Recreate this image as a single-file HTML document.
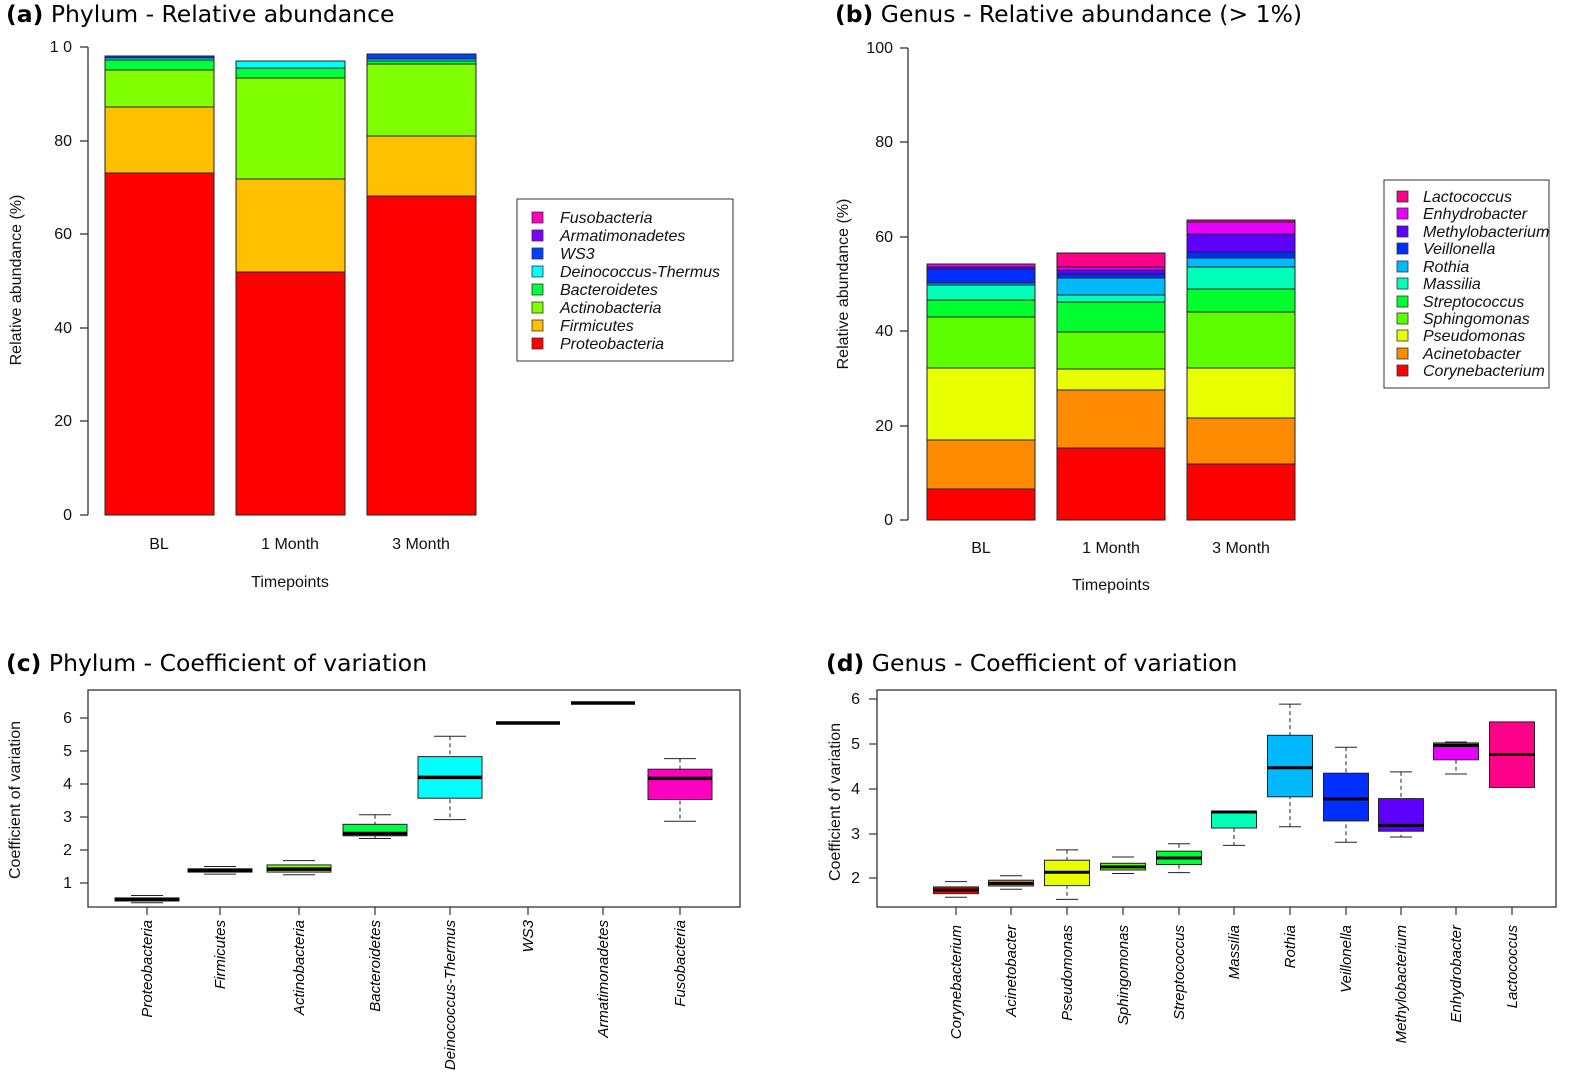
<!DOCTYPE html>
<html><head><meta charset="utf-8"><style>
html,body{margin:0;padding:0;background:#fff;}
svg{display:block;font-family:"Liberation Sans",Arial,sans-serif;}
.t{font-family:"DejaVu Sans","Liberation Sans",sans-serif;font-size:23.5px;}
.k{font-size:16px;fill:#111;}
.i{font-style:italic;font-size:15px;}
</style></head><body>
<svg width="1575" height="1089" viewBox="0 0 1575 1089" xmlns="http://www.w3.org/2000/svg">
<text x="6" y="22" class="t"><tspan font-weight="bold">(a)</tspan> Phylum - Relative abundance</text>
<text x="835" y="22" class="t"><tspan font-weight="bold">(b)</tspan> Genus - Relative abundance (&gt; 1%)</text>
<text x="6" y="671" class="t"><tspan font-weight="bold">(c)</tspan> Phylum - Coefficient of variation</text>
<text x="826" y="671" class="t"><tspan font-weight="bold">(d)</tspan> Genus - Coefficient of variation</text>

<g stroke="#333" stroke-width="1.3">
<line x1="88" y1="47" x2="88" y2="515"/>
<line x1="80" y1="47" x2="88" y2="47"/><line x1="80" y1="141" x2="88" y2="141"/><line x1="80" y1="234" x2="88" y2="234"/><line x1="80" y1="328" x2="88" y2="328"/><line x1="80" y1="421" x2="88" y2="421"/><line x1="80" y1="515" x2="88" y2="515"/>
</g>
<g class="k" text-anchor="end"><text x="72" y="52">1 0</text><text x="72" y="146">80</text><text x="72" y="239">60</text><text x="72" y="333">40</text><text x="72" y="426">20</text><text x="72" y="520">0</text></g>
<text transform="translate(21,280) rotate(-90)" text-anchor="middle" class="k">Relative abundance (%)</text>
<g stroke="#222" stroke-width="1">
<rect x="105" y="173" width="109" height="342" fill="#FF0000"/>
<rect x="105" y="107" width="109" height="66" fill="#FFC000"/>
<rect x="105" y="70" width="109" height="37" fill="#80FF00"/>
<rect x="105" y="60" width="109" height="10" fill="#00FF40"/>
<rect x="105" y="58" width="109" height="2" fill="#00FFFF"/>
<rect x="105" y="56" width="109" height="2" fill="#0040FF"/>
<rect x="236" y="272" width="109" height="243" fill="#FF0000"/>
<rect x="236" y="179" width="109" height="93" fill="#FFC000"/>
<rect x="236" y="78" width="109" height="101" fill="#80FF00"/>
<rect x="236" y="68" width="109" height="10" fill="#00FF40"/>
<rect x="236" y="61" width="109" height="7" fill="#00FFFF"/>
<rect x="367" y="196" width="109" height="319" fill="#FF0000"/>
<rect x="367" y="136" width="109" height="60" fill="#FFC000"/>
<rect x="367" y="64" width="109" height="72" fill="#80FF00"/>
<rect x="367" y="61" width="109" height="3" fill="#00FF40"/>
<rect x="367" y="59" width="109" height="2" fill="#00FFFF"/>
<rect x="367" y="54" width="109" height="5" fill="#0040FF"/>
</g>
<g class="k" text-anchor="middle"><text x="159" y="549">BL</text><text x="290" y="549">1 Month</text><text x="421" y="549">3 Month</text><text x="290" y="587">Timepoints</text></g>
<rect x="517" y="199" width="216" height="162" fill="#fff" stroke="#333"/>
<g stroke="#333" stroke-width="0.8">
<rect x="532" y="212" width="11" height="11" fill="#FF00C0"/>
<rect x="532" y="230" width="11" height="11" fill="#8000FF"/>
<rect x="532" y="248" width="11" height="11" fill="#0040FF"/>
<rect x="532" y="266" width="11" height="11" fill="#00FFFF"/>
<rect x="532" y="284" width="11" height="11" fill="#00FF40"/>
<rect x="532" y="302" width="11" height="11" fill="#80FF00"/>
<rect x="532" y="320" width="11" height="11" fill="#FFC000"/>
<rect x="532" y="338" width="11" height="11" fill="#FF0000"/>
</g>
<g class="k" font-style="italic" font-size="15"><text x="560" y="223">Fusobacteria</text><text x="560" y="241">Armatimonadetes</text><text x="560" y="259">WS3</text><text x="560" y="277">Deinococcus-Thermus</text><text x="560" y="295">Bacteroidetes</text><text x="560" y="313">Actinobacteria</text><text x="560" y="331">Firmicutes</text><text x="560" y="349">Proteobacteria</text></g>

<g stroke="#333" stroke-width="1.3">
<line x1="908" y1="48" x2="908" y2="520"/>
<line x1="900" y1="48" x2="908" y2="48"/><line x1="900" y1="142" x2="908" y2="142"/><line x1="900" y1="237" x2="908" y2="237"/><line x1="900" y1="331" x2="908" y2="331"/><line x1="900" y1="426" x2="908" y2="426"/><line x1="900" y1="520" x2="908" y2="520"/>
</g>
<g class="k" text-anchor="end"><text x="893" y="53">100</text><text x="893" y="147">80</text><text x="893" y="242">60</text><text x="893" y="336">40</text><text x="893" y="431">20</text><text x="893" y="525">0</text></g>
<text transform="translate(848,284) rotate(-90)" text-anchor="middle" class="k">Relative abundance (%)</text>
<g stroke="#222" stroke-width="1">
<rect x="927" y="489" width="108" height="31" fill="#FF0000"/>
<rect x="927" y="440" width="108" height="49" fill="#FF8C00"/>
<rect x="927" y="368" width="108" height="72" fill="#E8FF00"/>
<rect x="927" y="317" width="108" height="51" fill="#5DFF00"/>
<rect x="927" y="300" width="108" height="17" fill="#00FF2E"/>
<rect x="927" y="285" width="108" height="15" fill="#00FFB9"/>
<rect x="927" y="283" width="108" height="2" fill="#00B9FF"/>
<rect x="927" y="269" width="108" height="14" fill="#002EFF"/>
<rect x="927" y="267" width="108" height="2" fill="#5D00FF"/>
<rect x="927" y="264" width="108" height="3" fill="#E800FF"/>
<rect x="1057" y="448" width="108" height="72" fill="#FF0000"/>
<rect x="1057" y="390" width="108" height="58" fill="#FF8C00"/>
<rect x="1057" y="369" width="108" height="21" fill="#E8FF00"/>
<rect x="1057" y="332" width="108" height="37" fill="#5DFF00"/>
<rect x="1057" y="302" width="108" height="30" fill="#00FF2E"/>
<rect x="1057" y="295" width="108" height="7" fill="#00FFB9"/>
<rect x="1057" y="278" width="108" height="17" fill="#00B9FF"/>
<rect x="1057" y="274" width="108" height="4" fill="#002EFF"/>
<rect x="1057" y="270" width="108" height="4" fill="#5D00FF"/>
<rect x="1057" y="267" width="108" height="3" fill="#E800FF"/>
<rect x="1057" y="253" width="108" height="14" fill="#FF008B"/>
<rect x="1187" y="464" width="108" height="56" fill="#FF0000"/>
<rect x="1187" y="418" width="108" height="46" fill="#FF8C00"/>
<rect x="1187" y="368" width="108" height="50" fill="#E8FF00"/>
<rect x="1187" y="312" width="108" height="56" fill="#5DFF00"/>
<rect x="1187" y="289" width="108" height="23" fill="#00FF2E"/>
<rect x="1187" y="267" width="108" height="22" fill="#00FFB9"/>
<rect x="1187" y="258" width="108" height="9" fill="#00B9FF"/>
<rect x="1187" y="252" width="108" height="6" fill="#002EFF"/>
<rect x="1187" y="234" width="108" height="18" fill="#5D00FF"/>
<rect x="1187" y="222" width="108" height="12" fill="#E800FF"/>
<rect x="1187" y="220" width="108" height="2" fill="#FF008B"/>
</g>
<g class="k" text-anchor="middle"><text x="981" y="553">BL</text><text x="1111" y="553">1 Month</text><text x="1241" y="553">3 Month</text><text x="1111" y="590">Timepoints</text></g>
<rect x="1384" y="180" width="165" height="208" fill="#fff" stroke="#333"/>
<g stroke="#333" stroke-width="0.8">
<rect x="1397" y="191" width="11" height="11" fill="#FF008B"/>
<rect x="1397" y="208" width="11" height="11" fill="#E800FF"/>
<rect x="1397" y="226" width="11" height="11" fill="#5D00FF"/>
<rect x="1397" y="243" width="11" height="11" fill="#002EFF"/>
<rect x="1397" y="261" width="11" height="11" fill="#00B9FF"/>
<rect x="1397" y="278" width="11" height="11" fill="#00FFB9"/>
<rect x="1397" y="296" width="11" height="11" fill="#00FF2E"/>
<rect x="1397" y="313" width="11" height="11" fill="#5DFF00"/>
<rect x="1397" y="330" width="11" height="11" fill="#E8FF00"/>
<rect x="1397" y="348" width="11" height="11" fill="#FF8C00"/>
<rect x="1397" y="365" width="11" height="11" fill="#FF0000"/>
</g>
<g class="k" font-style="italic" font-size="14.5"><text x="1423" y="202">Lactococcus</text><text x="1423" y="219">Enhydrobacter</text><text x="1423" y="237">Methylobacterium</text><text x="1423" y="254">Veillonella</text><text x="1423" y="272">Rothia</text><text x="1423" y="289">Massilia</text><text x="1423" y="307">Streptococcus</text><text x="1423" y="324">Sphingomonas</text><text x="1423" y="341">Pseudomonas</text><text x="1423" y="359">Acinetobacter</text><text x="1423" y="376">Corynebacterium</text></g>

<rect x="88" y="690" width="652" height="217" fill="none" stroke="#333" stroke-width="1.3"/>
<g stroke="#333" stroke-width="1.2">
<line x1="80" y1="718" x2="88" y2="718"/><line x1="80" y1="751" x2="88" y2="751"/><line x1="80" y1="784" x2="88" y2="784"/><line x1="80" y1="817" x2="88" y2="817"/><line x1="80" y1="850" x2="88" y2="850"/><line x1="80" y1="883" x2="88" y2="883"/>
<line x1="147" y1="907" x2="147" y2="915"/><line x1="220" y1="907" x2="220" y2="915"/><line x1="299" y1="907" x2="299" y2="915"/><line x1="375" y1="907" x2="375" y2="915"/><line x1="450" y1="907" x2="450" y2="915"/><line x1="528" y1="907" x2="528" y2="915"/><line x1="603" y1="907" x2="603" y2="915"/><line x1="680" y1="907" x2="680" y2="915"/>
</g>
<g class="k" text-anchor="end"><text x="72" y="723">6</text><text x="72" y="756">5</text><text x="72" y="789">4</text><text x="72" y="822">3</text><text x="72" y="855">2</text><text x="72" y="888">1</text></g>
<text transform="translate(20,800) rotate(-90)" text-anchor="middle" class="k">Coefficient of variation</text>
<g stroke="#222" stroke-width="1">
<g stroke-dasharray="4,3">
<line x1="375" y1="814.7" x2="375" y2="838.5"/><line x1="450" y1="736.2" x2="450" y2="819.6"/><line x1="680" y1="758.6" x2="680" y2="821.3"/>
</g>
<line x1="131" y1="895.5" x2="163" y2="895.5"/><line x1="131" y1="902.8" x2="163" y2="902.8"/>
<line x1="204" y1="866.5" x2="236" y2="866.5"/><line x1="204" y1="874.1" x2="236" y2="874.1"/>
<line x1="283" y1="860.6" x2="315" y2="860.6"/><line x1="283" y1="874.8" x2="315" y2="874.8"/>
<line x1="359" y1="814.7" x2="391" y2="814.7"/><line x1="359" y1="838.5" x2="391" y2="838.5"/>
<line x1="434" y1="736.2" x2="466" y2="736.2"/><line x1="434" y1="819.6" x2="466" y2="819.6"/>
<line x1="664" y1="758.6" x2="696" y2="758.6"/><line x1="664" y1="821.3" x2="696" y2="821.3"/>
<rect x="115" y="897.9" width="64" height="3.1" fill="#FF0000"/>
<rect x="188" y="868.8" width="64" height="3.3" fill="#FFC000"/>
<rect x="267" y="864.9" width="64" height="7.2" fill="#80FF00"/>
<rect x="343" y="824.3" width="64" height="11.5" fill="#00FF40"/>
<rect x="418" y="756.6" width="64" height="41.6" fill="#00FFFF"/>
<rect x="648" y="769.2" width="64" height="30.3" fill="#FF00C0"/>
</g>
<g stroke="#000" stroke-width="3.5">
<line x1="115" y1="899.5" x2="179" y2="899.5"/><line x1="188" y1="870.5" x2="252" y2="870.5"/><line x1="267" y1="869.1" x2="331" y2="869.1"/><line x1="343" y1="833.5" x2="407" y2="833.5"/><line x1="418" y1="777.4" x2="482" y2="777.4"/><line x1="496" y1="723" x2="560" y2="723"/><line x1="571" y1="703" x2="635" y2="703"/><line x1="648" y1="778.4" x2="712" y2="778.4"/>
</g>
<g class="i" text-anchor="end">
<text transform="translate(152,920) rotate(-90)">Proteobacteria</text>
<text transform="translate(225,920) rotate(-90)">Firmicutes</text>
<text transform="translate(304,920) rotate(-90)">Actinobacteria</text>
<text transform="translate(380,920) rotate(-90)">Bacteroidetes</text>
<text transform="translate(455,920) rotate(-90)">Deinococcus-Thermus</text>
<text transform="translate(533,920) rotate(-90)">WS3</text>
<text transform="translate(608,920) rotate(-90)">Armatimonadetes</text>
<text transform="translate(685,920) rotate(-90)">Fusobacteria</text>
</g>

<rect x="877" y="690" width="679" height="217" fill="none" stroke="#333" stroke-width="1.3"/>
<g stroke="#333" stroke-width="1.2">
<line x1="869" y1="699" x2="877" y2="699"/><line x1="869" y1="744" x2="877" y2="744"/><line x1="869" y1="789" x2="877" y2="789"/><line x1="869" y1="834" x2="877" y2="834"/><line x1="869" y1="878" x2="877" y2="878"/>
<line x1="956" y1="907" x2="956" y2="915"/><line x1="1011" y1="907" x2="1011" y2="915"/><line x1="1067" y1="907" x2="1067" y2="915"/><line x1="1123" y1="907" x2="1123" y2="915"/><line x1="1179" y1="907" x2="1179" y2="915"/><line x1="1234" y1="907" x2="1234" y2="915"/><line x1="1290" y1="907" x2="1290" y2="915"/><line x1="1346" y1="907" x2="1346" y2="915"/><line x1="1401" y1="907" x2="1401" y2="915"/><line x1="1456" y1="907" x2="1456" y2="915"/><line x1="1512" y1="907" x2="1512" y2="915"/>
</g>
<g class="k" text-anchor="end"><text x="860" y="704">6</text><text x="860" y="749">5</text><text x="860" y="794">4</text><text x="860" y="839">3</text><text x="860" y="883">2</text></g>
<text transform="translate(840,802) rotate(-90)" text-anchor="middle" class="k">Coefficient of variation</text>
<g stroke="#222" stroke-width="1">
<g stroke-dasharray="4,3">
<line x1="1067" y1="849.9" x2="1067" y2="899.4"/><line x1="1179" y1="843.7" x2="1179" y2="872.6"/><line x1="1234" y1="828" x2="1234" y2="845.4"/><line x1="1290" y1="704.1" x2="1290" y2="826.7"/><line x1="1346" y1="747.3" x2="1346" y2="842.3"/><line x1="1401" y1="771.9" x2="1401" y2="837"/><line x1="1456" y1="759.8" x2="1456" y2="774"/>
</g>
<line x1="945" y1="881.6" x2="967" y2="881.6"/><line x1="945" y1="897.2" x2="967" y2="897.2"/>
<line x1="1000" y1="875.8" x2="1022" y2="875.8"/><line x1="1000" y1="889.2" x2="1022" y2="889.2"/>
<line x1="1056" y1="849.9" x2="1078" y2="849.9"/><line x1="1056" y1="899.4" x2="1078" y2="899.4"/>
<line x1="1112" y1="857" x2="1134" y2="857"/><line x1="1112" y1="873.5" x2="1134" y2="873.5"/>
<line x1="1168" y1="843.7" x2="1190" y2="843.7"/><line x1="1168" y1="872.6" x2="1190" y2="872.6"/>
<line x1="1223" y1="845.4" x2="1245" y2="845.4"/>
<line x1="1279" y1="704.1" x2="1301" y2="704.1"/><line x1="1279" y1="826.7" x2="1301" y2="826.7"/>
<line x1="1335" y1="747.3" x2="1357" y2="747.3"/><line x1="1335" y1="842.3" x2="1357" y2="842.3"/>
<line x1="1390" y1="771.9" x2="1412" y2="771.9"/><line x1="1390" y1="837" x2="1412" y2="837"/>
<line x1="1445" y1="742" x2="1467" y2="742"/><line x1="1445" y1="774" x2="1467" y2="774"/>
<rect x="933.5" y="886.9" width="45" height="6.7" fill="#FF0000"/>
<rect x="988.5" y="880.2" width="45" height="5.8" fill="#FF8C00"/>
<rect x="1044.5" y="860.2" width="45" height="25.4" fill="#E8FF00"/>
<rect x="1100.5" y="863.3" width="45" height="6.7" fill="#5DFF00"/>
<rect x="1156.5" y="851.2" width="45" height="13.4" fill="#00FF2E"/>
<rect x="1211.5" y="811.1" width="45" height="16.9" fill="#00FFB9"/>
<rect x="1267.5" y="735.3" width="45" height="61.5" fill="#00B9FF"/>
<rect x="1323.5" y="773.2" width="45" height="47.7" fill="#002EFF"/>
<rect x="1378.5" y="798.6" width="45" height="32.6" fill="#5D00FF"/>
<rect x="1433.5" y="742.9" width="45" height="16.9" fill="#E800FF"/>
<rect x="1489.5" y="721.9" width="45" height="65.6" fill="#FF008B"/>
</g>
<g stroke="#000" stroke-width="3">
<line x1="933.5" y1="890" x2="978.5" y2="890"/><line x1="988.5" y1="883.4" x2="1033.5" y2="883.4"/><line x1="1044.5" y1="872.2" x2="1089.5" y2="872.2"/><line x1="1100.5" y1="866.9" x2="1145.5" y2="866.9"/><line x1="1156.5" y1="858" x2="1201.5" y2="858"/><line x1="1211.5" y1="812" x2="1256.5" y2="812"/><line x1="1267.5" y1="767.8" x2="1312.5" y2="767.8"/><line x1="1323.5" y1="799" x2="1368.5" y2="799"/><line x1="1378.5" y1="825.4" x2="1423.5" y2="825.4"/><line x1="1433.5" y1="745.5" x2="1478.5" y2="745.5"/><line x1="1489.5" y1="754.5" x2="1534.5" y2="754.5"/>
</g>
<g class="i" text-anchor="end">
<text transform="translate(961,925) rotate(-90)">Corynebacterium</text>
<text transform="translate(1016,925) rotate(-90)">Acinetobacter</text>
<text transform="translate(1072,925) rotate(-90)">Pseudomonas</text>
<text transform="translate(1128,925) rotate(-90)">Sphingomonas</text>
<text transform="translate(1184,925) rotate(-90)">Streptococcus</text>
<text transform="translate(1239,925) rotate(-90)">Massilia</text>
<text transform="translate(1295,925) rotate(-90)">Rothia</text>
<text transform="translate(1351,925) rotate(-90)">Veillonella</text>
<text transform="translate(1406,925) rotate(-90)">Methylobacterium</text>
<text transform="translate(1461,925) rotate(-90)">Enhydrobacter</text>
<text transform="translate(1517,925) rotate(-90)">Lactococcus</text>
</g>
</svg>
</body></html>
